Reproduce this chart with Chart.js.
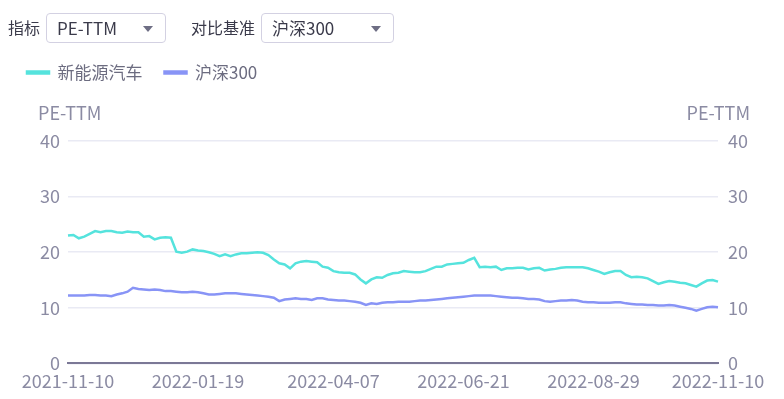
<!DOCTYPE html>
<html>
<head>
<meta charset="utf-8">
<script src="https://cdn.jsdelivr.net/npm/chart.js@4.4.0/dist/chart.umd.min.js"></script>
<style>
  body { margin: 0; background: #fff; font-family: "Noto Sans CJK SC", "Noto Sans", sans-serif; }
  #wrap { position: relative; width: 784px; height: 399px; }
  canvas { position: absolute; left: 0; top: 0; }
  .lbl { position: absolute; top: 15px; font-size: 16px; color: #3a3a4a; }
  .sel { position: absolute; top: 13px; height: 28px; border: 1px solid #d3d1e2; border-radius: 4px;
         font-size: 17px; color: #3a3a4a; line-height: 28px; box-sizing: content-box; }
  .sel span { position: absolute; left: 10px; }
  .sel i { position: absolute; top: 12px; width: 0; height: 0; border-left: 5px solid transparent;
           border-right: 5px solid transparent; border-top: 6px solid #6e6e84; }
</style>
</head>
<body>
<div id="wrap">
  <canvas id="c" width="784" height="399"></canvas>
  <div class="lbl" style="left:8px">指标</div>
  <div class="sel" style="left:46px;width:118px"><span>PE-TTM</span><i style="left:96px"></i></div>
  <div class="lbl" style="left:191px">对比基准</div>
  <div class="sel" style="left:261px;width:131px"><span>沪深300</span><i style="left:109px"></i></div>
</div>
<script>
const seriesNames = ['新能源汽车', '沪深300'];
const tickLabels = ['2021-11-10', '2022-01-19', '2022-04-07', '2022-06-21', '2022-08-29', '2022-11-10'];
const tickIndex = [0, 24, 49, 73, 97, 120];
const yTicks = [0, 10, 20, 30, 40];

// PE-TTM, roughly every second trading day
const nev = [
  23.0, 23.1, 22.5, 22.8, 23.3, 23.8, 23.6, 23.8, 23.8, 23.6,
  23.5, 23.7, 23.6, 23.6, 22.8, 22.9, 22.3, 22.6, 22.7, 22.6,
  20.1, 19.9, 20.1, 20.5, 20.3, 20.2, 20.0, 19.7, 19.3, 19.6,
  19.3, 19.6, 19.8, 19.8, 19.9, 20.0, 19.9, 19.5, 18.7, 18.0,
  17.8, 17.1, 18.0, 18.3, 18.4, 18.3, 18.2, 17.4, 17.2, 16.6,
  16.4, 16.3, 16.3, 16.0, 15.1, 14.4, 15.1, 15.5, 15.4, 15.9,
  16.2, 16.3, 16.6, 16.5, 16.4, 16.4, 16.6, 17.0, 17.4, 17.4,
  17.8, 17.9, 18.0, 18.1, 18.6, 19.0, 17.3, 17.4, 17.3, 17.4,
  16.8, 17.1, 17.1, 17.2, 17.2, 16.9, 17.1, 17.2, 16.7, 16.9,
  17.0, 17.2, 17.3, 17.3, 17.3, 17.3, 17.1, 16.8, 16.5, 16.1,
  16.4, 16.6, 16.6, 15.9, 15.5, 15.6, 15.5, 15.3, 14.8, 14.3,
  14.6, 14.8, 14.7, 14.5, 14.4, 14.1, 13.8, 14.4, 14.9, 15.0,
  14.7
];
const hs300 = [
  12.2, 12.2, 12.2, 12.2, 12.3, 12.3, 12.2, 12.2, 12.1, 12.4,
  12.6, 12.9, 13.6, 13.4, 13.3, 13.2, 13.3, 13.2, 13.0, 13.0,
  12.9, 12.8, 12.8, 12.9, 12.8, 12.6, 12.4, 12.4, 12.5, 12.6,
  12.6, 12.6, 12.5, 12.4, 12.3, 12.2, 12.1, 12.0, 11.8, 11.2,
  11.5, 11.6, 11.7, 11.6, 11.6, 11.4, 11.7, 11.7, 11.5, 11.4,
  11.3, 11.3, 11.2, 11.1, 10.9, 10.5, 10.8, 10.7, 10.9, 11.0,
  11.0, 11.1, 11.1, 11.1, 11.2, 11.3, 11.3, 11.4, 11.5, 11.6,
  11.7, 11.8, 11.9, 12.0, 12.1, 12.2, 12.2, 12.2, 12.2, 12.1,
  12.0, 11.9, 11.8, 11.8, 11.7, 11.6, 11.6, 11.5, 11.2, 11.1,
  11.2, 11.3, 11.3, 11.4, 11.3, 11.1, 11.0, 11.0, 10.9, 10.9,
  10.9, 11.0, 11.0, 10.8, 10.7, 10.6, 10.6, 10.5, 10.5, 10.4,
  10.4, 10.5, 10.4, 10.2, 10.0, 9.8, 9.5, 9.8, 10.1, 10.2,
  10.1
];

const FONT = '"Noto Sans CJK SC", "Noto Sans", sans-serif';
const tickColor = '#8b8ba3';

// extra room under the legend for the axis titles
const legendGap = {
  id: 'legendGap',
  beforeInit(chart) {
    const fit = chart.legend.fit;
    chart.legend.fit = function () {
      fit.call(this);
      this.height += 50;
    };
  }
};

const axisTitles = {
  id: 'axisTitles',
  afterDraw(chart) {
    const { ctx, chartArea } = chart;
    ctx.save();
    ctx.font = '18px ' + FONT;
    ctx.fillStyle = tickColor;
    ctx.textBaseline = 'middle';
    ctx.textAlign = 'left';
    ctx.fillText('PE-TTM', chartArea.left - 30, chartArea.top - 28);
    ctx.textAlign = 'right';
    ctx.fillText('PE-TTM', chartArea.right + 32, chartArea.top - 28);
    ctx.restore();
  }
};

new Chart(document.getElementById('c'), {
  type: 'line',
  data: {
    labels: nev.map((_, i) => i),
    datasets: [
      { label: seriesNames[0], data: nev, borderColor: '#55e3dd', backgroundColor: '#55e3dd',
        borderWidth: 2.5, pointRadius: 0, tension: 0, yAxisID: 'y' },
      { label: seriesNames[1], data: hs300, borderColor: '#8894f6', backgroundColor: '#8894f6',
        borderWidth: 2.5, pointRadius: 0, tension: 0, yAxisID: 'y' }
    ]
  },
  options: {
    responsive: false,
    animation: false,
    layout: { padding: { top: 42, left: 5, right: 0, bottom: 0 } },
    plugins: {
      legend: {
        position: 'top',
        align: 'start',
        labels: { boxWidth: 22, boxHeight: 2, padding: 22, color: '#6c6c80', font: { family: FONT, size: 17 } }
      },
      tooltip: { enabled: false }
    },
    scales: {
      x: {
        grid: { display: false, drawTicks: false },
        border: { display: true, color: '#7b7896', width: 2 },
        afterBuildTicks: s => { s.ticks = tickIndex.map(v => ({ value: v })); },
        ticks: {
          autoSkip: false, maxRotation: 0, padding: 7, color: tickColor,
          font: { family: FONT, size: 18 },
          callback: v => tickLabels[tickIndex.indexOf(v)]
        }
      },
      y: {
        position: 'left', min: 0, max: 40,
        afterBuildTicks: s => { s.ticks = yTicks.map(v => ({ value: v })); },
        afterFit: s => { s.width = 63; },
        grid: { color: '#e9eaf4', lineWidth: 1.5, drawTicks: false },
        border: { display: false },
        ticks: { padding: 8, color: tickColor, font: { family: FONT, size: 18 } }
      },
      y1: {
        position: 'right', min: 0, max: 40,
        afterBuildTicks: s => { s.ticks = yTicks.map(v => ({ value: v })); },
        afterFit: s => { s.width = 66; },
        grid: { display: false, drawTicks: false },
        border: { display: false },
        ticks: { padding: 10, color: tickColor, font: { family: FONT, size: 18 } }
      }
    }
  },
  plugins: [legendGap, axisTitles]
});
</script>
</body>
</html>
